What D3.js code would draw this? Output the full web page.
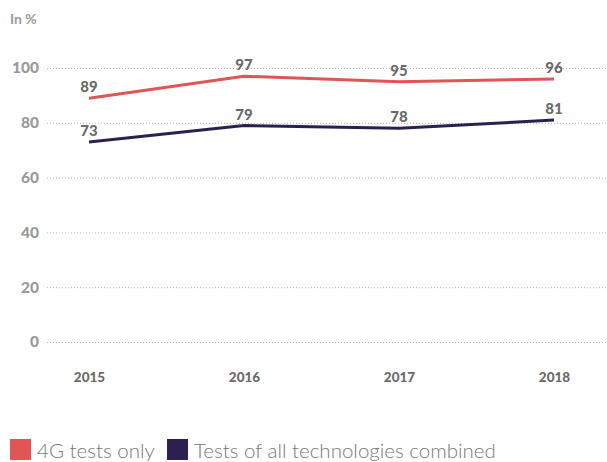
<!DOCTYPE html>
<html>
<head>
<meta charset="utf-8">
<script src="https://cdn.jsdelivr.net/npm/d3@7/dist/d3.min.js"></script>
<style>
  html, body { margin: 0; padding: 0; background: #fff; }
  svg { display: block; }
</style>
</head>
<body>
<svg id="chart" width="607" height="462"></svg>
<script>
const years = ["2015", "2016", "2017", "2018"];
const only4G = [89, 97, 95, 96];
const allTech = [73, 79, 78, 81];
const yTicks = [0, 20, 40, 60, 80, 100];
const seriesNames = ["4G tests only", "Tests of all technologies combined"];
const seriesColors = ["#e05555", "#2d1f50"];

const svg = d3.select("#chart");
const x = d3.scalePoint().domain(years).range([89, 554]);
const y = d3.scaleLinear().domain([0, 100]).range([342, 68]);

// unit label
svg.append("text").attr("x", 10).attr("y", 24)
  .attr("font-family", "Lato").attr("font-weight", 700).attr("font-size", 14)
  .attr("fill", "#9a9a9a").text("In %");

// gridlines + y axis labels
const yAxis = d3.axisLeft(y).tickValues(yTicks).tickSize(0).tickPadding(0);
const gy = svg.append("g").attr("transform", "translate(40,0)").call(yAxis);
gy.select(".domain").remove();
gy.selectAll("text").attr("x", -1)
  .attr("font-family", "Lato").attr("font-weight", 900).attr("font-size", 15.5)
  .attr("fill", "#9a9a9a");
gy.selectAll(".tick").append("line")
  .attr("x1", 7).attr("x2", 567)
  .attr("stroke", "#b5b5b5").attr("stroke-width", 1).attr("stroke-dasharray", "1,2");

// x axis labels
const xAxis = d3.axisBottom(x).tickSize(0).tickPadding(0);
const gx = svg.append("g").attr("transform", "translate(0,372)").call(xAxis);
gx.select(".domain").remove();
gx.selectAll("text")
  .attr("font-family", "Lato").attr("font-weight", 900).attr("font-size", 13.5)
  .attr("fill", "#6a6a6a");

// lines with value labels
const line = d3.line().x((d, i) => x(years[i])).y(d => y(d));
[only4G, allTech].forEach((vals, s) => {
  svg.append("path").datum(vals).attr("d", line)
    .attr("fill", "none").attr("stroke", seriesColors[s]).attr("stroke-width", 3);
  svg.selectAll(null).data(vals).enter().append("text")
    .attr("x", (d, i) => x(years[i]))
    .attr("y", d => y(d) - 6)
    .attr("text-anchor", "middle")
    .attr("font-family", "Lato").attr("font-weight", 900).attr("font-size", 15)
    .attr("fill", "#6a6a6a")
    .text(d => d);
});

// legend
const legendX = [10, 167];
seriesNames.forEach((name, i) => {
  svg.append("rect").attr("x", legendX[i]).attr("y", 439)
    .attr("width", 21).attr("height", 21).attr("fill", seriesColors[i]);
  svg.append("text").attr("x", legendX[i] + 27).attr("y", 458)
    .attr("font-family", "Lato").attr("font-weight", 300).attr("font-size", 20.5)
    .attr("fill", "#777").text(name);
});
</script>
</body>
</html>
